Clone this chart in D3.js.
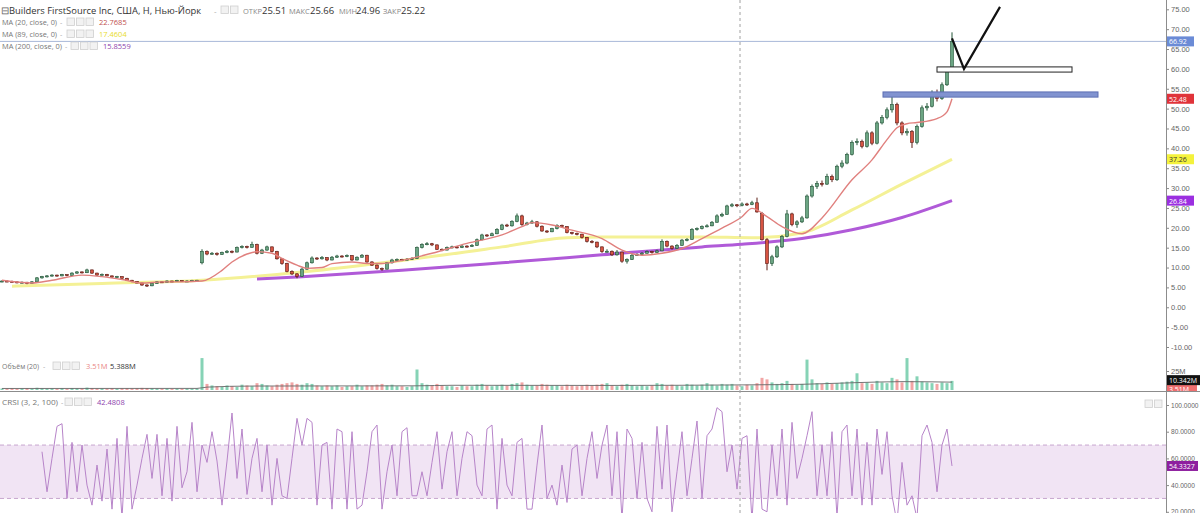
<!DOCTYPE html>
<html><head><meta charset="utf-8">
<script src="https://cdn.jsdelivr.net/npm/d3@7"></script>
<style>
html,body{margin:0;padding:0;background:#fff;overflow:hidden}
svg{display:block;font-family:"Open Sans",Roboto,sans-serif}
</style></head><body>
<svg id="c" width="1200" height="513"></svg>
<script>
// ---------- DATA (weekly bars) ----------
const opens=[6.5,6.6,6.5,6.4,6.2,6.3,6.0,6.4,7.4,7.7,
7.9,8.1,7.9,8.2,8.0,8.6,8.9,8.7,9.4,8.6,
8.1,8.3,7.9,7.6,7.7,7.3,6.8,6.5,6.1,5.6,
5.4,6.0,6.4,6.3,6.6,6.5,6.7,6.5,6.6,6.7,
11.2,14.0,13.4,13.6,13.3,13.8,14.1,13.9,15.0,15.3,
15.1,15.8,13.6,14.4,15.2,14.0,12.2,11.0,9.0,8.4,
7.8,9.6,11.2,12.4,12.2,12.5,11.9,12.6,12.9,12.8,
13.0,11.9,12.6,13.1,11.4,10.6,9.8,9.6,11.2,11.9,
12.0,11.9,12.1,12.3,15.0,15.8,16.0,15.7,14.6,14.4,
15.0,15.2,15.0,15.4,15.3,15.6,17.0,18.2,18.0,18.5,
19.6,20.7,20.5,21.6,23.0,20.8,21.2,21.5,20.4,19.2,
19.0,19.8,20.6,20.3,18.8,18.6,18.4,17.6,16.6,16.4,
15.2,14.0,14.1,13.2,13.9,11.6,12.0,13.1,13.3,13.6,
14.0,13.8,14.2,16.6,15.4,14.8,15.6,16.9,17.1,19.6,
19.8,20.3,20.5,21.4,23.0,23.4,25.5,25.8,25.6,26.0,
25.9,26.3,23.6,17.0,11.0,12.7,15.2,17.8,23.5,20.8,
21.5,22.5,28.0,30.4,31.2,31.0,32.9,32.1,35.5,36.3,
38.5,41.5,41.7,40.5,43.9,41.3,46.4,47.8,49.7,51.0,
46.4,43.9,44.2,41.5,45.5,50.2,50.6,54.0,52.5,56.0,
59.8];
const highs=[6.8,6.8,6.7,6.5,6.5,6.4,6.6,7.6,7.9,8.1,
8.3,8.2,8.4,8.3,8.8,9.1,9.0,9.7,9.5,8.7,
8.5,8.4,8.0,7.9,7.8,7.4,6.9,6.6,6.2,5.8,
6.1,6.6,6.5,6.8,6.7,6.9,6.8,6.8,6.9,6.9,
14.6,14.3,13.9,13.8,14.0,14.4,14.3,15.3,15.6,15.5,
16.5,16.0,14.7,15.5,15.3,14.2,12.4,11.2,9.3,8.6,
9.9,11.5,12.8,12.6,12.9,12.6,12.9,13.2,13.1,13.3,
13.1,12.8,13.4,13.2,11.6,10.8,10.0,11.4,12.2,12.3,
12.2,12.4,12.6,15.3,16.1,16.4,16.2,15.8,14.8,15.3,
15.5,15.4,15.7,15.6,15.9,17.3,18.5,18.4,18.8,19.9,
21.0,21.0,21.9,23.6,23.3,21.5,22.0,21.7,20.6,19.4,
20.0,20.9,20.8,20.4,19.0,18.8,18.5,17.7,16.9,16.5,
15.3,14.6,14.3,14.4,14.0,12.3,13.4,13.6,13.9,14.3,
14.2,14.5,17.1,16.8,15.6,15.9,17.2,17.4,19.9,20.1,
20.6,20.9,21.7,23.4,23.8,25.8,26.2,26.0,26.4,26.3,
26.8,27.6,24.0,17.4,13.2,15.6,18.2,24.5,23.8,21.9,
23.0,28.4,30.9,31.8,31.9,33.6,33.4,35.9,37.0,38.9,
42.0,42.5,42.2,44.5,44.3,46.9,48.4,50.3,53.9,51.5,
46.8,45.0,44.6,46.0,50.8,51.4,54.6,54.8,56.6,60.2,
69.2];
const lows=[6.3,6.3,6.2,6.0,6.0,5.8,5.9,6.3,7.2,7.5,
7.7,7.7,7.8,7.8,7.9,8.4,8.5,8.6,8.4,7.9,
8.0,7.8,7.4,7.5,7.1,6.7,6.3,6.0,5.4,5.1,
5.3,5.9,6.1,6.2,6.3,6.4,6.4,6.4,6.5,6.5,
10.8,13.1,13.2,13.0,13.2,13.6,13.6,13.8,14.8,14.8,
15.0,13.3,13.4,14.2,13.8,12.0,10.7,8.8,8.1,7.3,
7.6,9.4,11.0,11.9,12.0,11.6,11.8,12.4,12.5,12.6,
11.7,11.8,12.5,11.2,10.4,9.5,9.2,9.5,11.0,11.7,
11.6,11.8,11.9,12.2,14.8,15.6,15.4,14.4,14.1,14.3,
14.8,14.8,14.9,15.0,15.2,15.5,16.8,17.7,17.9,18.4,
19.4,20.2,20.3,21.4,20.5,20.6,21.0,20.1,19.0,18.7,
18.9,19.6,20.0,18.6,18.3,18.1,17.3,16.3,16.1,14.9,
13.7,13.8,12.9,13.0,11.2,11.0,11.9,12.9,13.1,13.5,
13.5,13.7,14.1,15.1,14.5,14.7,15.5,16.6,17.0,19.3,
19.6,20.1,20.4,21.3,22.7,23.3,25.2,25.2,25.4,25.5,
25.7,23.8,16.8,9.3,10.4,12.4,14.9,17.6,20.4,20.0,
21.2,22.3,27.6,29.8,30.4,30.8,31.5,31.8,35.0,36.0,
38.2,40.8,40.0,40.2,40.8,41.0,46.0,47.3,49.0,45.8,
43.3,43.2,40.1,41.0,45.2,49.5,50.3,51.8,52.2,55.7,
59.2];
const closes=[6.6,6.5,6.4,6.2,6.3,6.0,6.4,7.4,7.7,7.9,
8.1,7.9,8.2,8.0,8.6,8.9,8.7,9.4,8.6,8.1,
8.3,7.9,7.6,7.7,7.3,6.8,6.5,6.1,5.6,5.4,
6.0,6.4,6.3,6.6,6.5,6.7,6.5,6.6,6.7,6.8,
14.0,13.4,13.6,13.3,13.8,14.1,13.9,15.0,15.3,15.1,
15.8,13.6,14.4,15.2,14.0,12.2,11.0,9.0,8.4,7.8,
9.6,11.2,12.4,12.2,12.5,11.9,12.6,12.9,12.8,13.0,
11.9,12.6,13.1,11.4,10.6,9.8,9.6,11.2,11.9,12.0,
11.9,12.1,12.3,15.0,15.8,16.0,15.7,14.6,14.4,15.0,
15.2,15.0,15.4,15.3,15.6,17.0,18.2,18.0,18.5,19.6,
20.7,20.5,21.6,23.0,20.8,21.2,21.5,20.4,19.2,19.0,
19.8,20.6,20.3,18.8,18.6,18.4,17.6,16.6,16.4,15.2,
14.0,14.1,13.2,13.9,11.6,12.0,13.1,13.3,13.6,14.0,
13.8,14.2,16.6,15.4,14.8,15.6,16.9,17.1,19.6,19.8,
20.3,20.5,21.4,23.0,23.4,25.5,25.8,25.6,26.0,25.9,
26.3,24.0,17.0,11.0,12.7,15.2,17.8,23.5,20.8,21.5,
22.5,28.0,30.4,31.2,31.0,32.9,32.1,35.5,36.3,38.5,
41.5,41.7,40.5,43.9,41.3,46.4,47.8,49.7,51.0,46.4,
43.9,44.2,41.5,45.5,50.2,50.6,54.0,52.5,56.0,59.6,
66.9];
// volume, millions
const volumes=[2.0,1.8,2.2,1.5,2.0,2.4,1.6,3.0,2.2,1.8,
2.0,1.6,2.4,1.5,2.6,2.1,1.7,3.2,2.5,1.9,
2.0,1.8,2.3,1.6,2.2,2.5,2.0,2.4,2.8,2.6,
2.2,1.9,1.7,2.0,1.6,1.8,1.5,1.9,1.7,2.0,
42,
8,6,5,4,6,5,4,7,6,5,9,8,6,5,7,8,9,10,8,7,9,8,6,5,6,5,6,4,5,5,7,5,6,6,7,8,6,7,5,5,4,5,
27,
9,7,6,8,6,5,5,4,6,5,5,7,8,6,5,6,7,6,8,9,10,7,6,6,8,7,6,6,5,7,6,5,6,7,6,7,8,9,6,5,7,8,6,5,6,5,6,9,8,6,7,6,5,8,7,6,7,9,7,6,8,7,8,6,5,7,6,
9,16,14,10,8,9,12,8,7,8,40,14,9,8,10,8,9,10,11,12,22,9,10,8,12,10,9,16,14,10,42,12,18,11,10,9,8,10,9,12];
const volMaBars=[0,39,41,50,83,90,120,150,160,170,180,190];
const volMaVals=[2.0,2.1,3.8,5.2,5.5,6.2,6.0,6.8,7.5,9.5,11.0,10.342];
// moving averages (bar index -> value)
const ma20Bars=[0,6,10,16,20,24,28,32,36,40,44,46,49,51,54,56,59,61,64,66,70,73,76,80,86,93,100,104,106,110,114,120,124,128,132,136,140,144,148,150,153,156,160,164,170,174,177,179,181,183,187,189,190];
const ma20Vals=[6.8,6.1,6.8,8.1,7.7,7.0,6.1,6.4,6.4,6.6,9.3,11.4,13.4,14.0,13.6,12.3,10.6,9.8,10.0,11.0,11.4,11.0,11.0,11.8,13.6,16.1,18.2,20.3,21.3,20.7,19.4,17.3,14.4,13.1,13.6,14.8,17.3,19.9,22.8,24.9,22.8,20.3,18.5,22.5,32.1,37.1,42.2,45.2,46.2,46.5,47.5,49.2,52.48];
const ma89Bars=[2,20,40,60,80,100,113,120,140,150,160,170,180,190];
const ma89Vals=[5.3,6.0,6.8,8.9,11.8,15.2,17.5,17.7,17.7,17.5,18.7,24.5,31.0,37.26];
const ma200Bars=[51,60,80,100,120,140,148,160,170,180,190];
const ma200Vals=[7.1,7.7,9.3,11.2,13.2,15.2,15.86,17.3,19.5,22.6,26.84];
// CRSI (3,2,100), last 183 bars
const crsi=[65,35,60,84,86,30,72,35,70,40,
25,55,28,67,22,75,15,84,22,40,
60,78,45,78,32,75,28,84,38,50,
87,35,70,57,80,58,25,58,94,45,
82,33,60,75,35,70,25,60,32,30,
60,90,70,90,87,25,70,72,22,82,
80,22,80,22,25,50,80,85,22,50,
70,32,80,83,32,32,50,32,57,80,
37,65,80,32,60,80,77,40,32,82,
85,22,75,40,32,72,75,22,22,55,
85,30,40,25,55,27,67,70,32,60,
80,45,70,85,32,80,14,82,75,30,
72,30,20,84,37,85,20,50,80,32,
60,88,30,77,82,98,95,50,70,37,
75,77,13,82,22,20,70,32,82,25,
87,45,60,77,95,32,70,32,80,16,
80,85,32,82,25,72,25,82,48,80,
32,12,57,25,32,15,77,85,72,35,
70,82,54.33];
const priceTicks=[-10,-5,0,5,10,15,20,25,30,35,40,45,50,55,60,65,70,75];
const crsiTicks=[20,40,60,80,100];
const crsiBand=[30,70];
// drawings (bar index, price)
const blueZone={bars:[176.2,219.2],prices:[52.9,54.2]};
const whiteZone={bars:[187,214],prices:[59.2,60.5]};
const arrowPath=[[190,67.7],[192.4,60.0],[199.6,75.6]];
const cursorBar=147.6, cursorPrice=66.92;

// ---------- CHART ----------
const svg=d3.select('#c');
const AX=1166;
const x=d3.scaleLinear().domain([0,190]).range([2,952]);
const y=d3.scaleLinear().domain([-10,75]).range([347,9.3]);
const yv=d3.scaleLinear().domain([0,25]).range([390,371]);
const yc=d3.scaleLinear().domain([20,100]).range([511.8,405]);
const N=closes.length;
const bars=d3.range(N).map(i=>({i,o:opens[i],h:highs[i],l:lows[i],c:closes[i],v:volumes[i]}));

const defs=svg.append('defs');
defs.append('clipPath').attr('id','cm').append('rect').attr('x',0).attr('y',0).attr('width',AX).attr('height',391);
defs.append('clipPath').attr('id','cc').append('rect').attr('x',0).attr('y',392).attr('width',AX).attr('height',121);
defs.append('clipPath').attr('id','ct').append('rect').attr('x',AX).attr('y',0).attr('width',40).attr('height',391);

// CRSI panel
const gc=svg.append('g').attr('clip-path','url(#cc)');
gc.append('rect').attr('x',0).attr('width',AX).attr('y',yc(crsiBand[1])).attr('height',yc(crsiBand[0])-yc(crsiBand[1])).attr('fill','#f1e4f4');
crsiBand.forEach(v=>gc.append('line').attr('x1',0).attr('x2',AX).attr('y1',yc(v)).attr('y2',yc(v)).attr('stroke','#c7a6cf').attr('stroke-dasharray','4,3'));
const off=N-crsi.length;
gc.append('path').datum(crsi.map((v,k)=>[k+off,v])).attr('fill','none').attr('stroke','#b784c9').attr('stroke-width',1)
 .attr('d',d3.line().x(d=>x(d[0])).y(d=>yc(d[1])));

// main panel
const gm=svg.append('g').attr('clip-path','url(#cm)');
// volume
gm.append('g').selectAll('rect').data(bars).join('rect')
 .attr('x',d=>x(d.i)-1.5).attr('width',3).attr('y',d=>yv(d.v)).attr('height',d=>yv(0)-yv(d.v))
 .attr('fill',d=>d.c>=d.o?'#86d3b6':'#f2a5a5');
gm.append('path').datum(volMaBars.map((b,k)=>[b,volMaVals[k]])).attr('fill','none').attr('stroke','#666').attr('stroke-width',0.9)
 .attr('d',d3.line().x(d=>x(d[0])).y(d=>yv(d[1])).curve(d3.curveMonotoneX));

// cursor horizontal line
gm.append('line').attr('x1',0).attr('x2',AX).attr('y1',y(cursorPrice)).attr('y2',y(cursorPrice)).attr('stroke','#a8b8d8').attr('stroke-width',1);

// MAs (long ones below candles)
const maLine=(b,v)=>d3.line().x((d,k)=>x(b[k])).y((d,k)=>y(v[k])).curve(d3.curveMonotoneX)(v);
gm.append('path').attr('d',maLine(ma89Bars,ma89Vals)).attr('fill','none').attr('stroke','#f4f196').attr('stroke-width',3);
gm.append('path').attr('d',maLine(ma200Bars,ma200Vals)).attr('fill','none').attr('stroke','#b05ad8').attr('stroke-width',3);

// candles
const cg=gm.append('g');
cg.selectAll('line').data(bars).join('line')
 .attr('x1',d=>x(d.i)).attr('x2',d=>x(d.i)).attr('y1',d=>y(d.h)).attr('y2',d=>y(d.l))
 .attr('stroke',d=>d.c>=d.o?'#225437':'#5b1a13').attr('stroke-width',1);
cg.selectAll('rect').data(bars).join('rect')
 .attr('x',d=>x(d.i)-1.5).attr('width',3)
 .attr('y',d=>y(Math.max(d.o,d.c))).attr('height',d=>Math.max(1,Math.abs(y(d.o)-y(d.c))))
 .attr('fill',d=>d.c>=d.o?'#6ba583':'#d75442').attr('stroke',d=>d.c>=d.o?'#225437':'#5b1a13').attr('stroke-width',0.6);

gm.append('path').attr('d',maLine(ma20Bars,ma20Vals)).attr('fill','none').attr('stroke','#e0807e').attr('stroke-width',1.4);

// drawings
gm.append('rect').attr('x',x(blueZone.bars[0])).attr('width',x(blueZone.bars[1])-x(blueZone.bars[0]))
 .attr('y',y(blueZone.prices[1])).attr('height',y(blueZone.prices[0])-y(blueZone.prices[1]))
 .attr('fill','#8193d0').attr('stroke','#5d6fb3').attr('stroke-width',1);
gm.append('rect').attr('x',x(whiteZone.bars[0])).attr('width',x(whiteZone.bars[1])-x(whiteZone.bars[0]))
 .attr('y',y(whiteZone.prices[1])).attr('height',y(whiteZone.prices[0])-y(whiteZone.prices[1]))
 .attr('fill','#fff').attr('stroke','#222').attr('stroke-width',1);
gm.append('path').attr('d',d3.line().x(d=>x(d[0])).y(d=>y(d[1]))(arrowPath)).attr('fill','none').attr('stroke','#111').attr('stroke-width',2.2);

// separators
svg.append('line').attr('x1',0).attr('x2',1200).attr('y1',391.5).attr('y2',391.5).attr('stroke','#8c8c8c');
// cursor vertical
svg.append('line').attr('x1',x(cursorBar)).attr('x2',x(cursorBar)).attr('y1',0).attr('y2',513).attr('stroke','#a0a0a0').attr('stroke-dasharray','3,3');

// axes
function styleAxis(size){return g=>{g.selectAll('.domain').remove();g.selectAll('line').attr('stroke','#888');g.selectAll('text').attr('fill','#666').style('font-size',size+'px');};}
svg.append('g').attr('transform',`translate(${AX},0)`).call(d3.axisRight(y).tickValues(priceTicks).tickFormat(d=>d.toFixed(2)).tickSize(3).tickPadding(2)).call(styleAxis(7.5));
svg.append('g').attr('transform',`translate(${AX},0)`).call(d3.axisRight(yv).tickValues([25]).tickFormat(d=>d+'M').tickSize(3).tickPadding(2)).call(styleAxis(7.5));
svg.append('g').attr('transform',`translate(${AX},0)`).call(d3.axisRight(yc).tickValues(crsiTicks).tickFormat(d=>d.toFixed(4)).tickSize(3).tickPadding(2)).call(styleAxis(6.6));
svg.append('line').attr('x1',AX+0.5).attr('x2',AX+0.5).attr('y1',0).attr('y2',513).attr('stroke','#8c8c8c');

// value tags
function tag(yy,txt,bg,fg,w,clip){
  const g=svg.append('g');
  if(clip)g.attr('clip-path','url(#ct)');
  g.append('rect').attr('x',AX+1).attr('y',yy-5).attr('width',w||27).attr('height',10).attr('fill',bg);
  g.append('text').attr('x',AX+3).attr('y',yy+3).text(txt).attr('fill',fg).style('font-size','7px');
}
tag(y(cursorPrice),cursorPrice.toFixed(2),'#6b8bd6','#fff');
tag(y(ma20Vals[ma20Vals.length-1]),'52.48','#e0333a','#fff');
tag(y(ma89Vals[ma89Vals.length-1]),'37.26','#f4f23c','#333');
tag(y(ma200Vals[ma200Vals.length-1]),'26.84','#9b2fe0','#fff');
tag(yv(3.51)+2,'3.51M','#ef6f6f','#fff',30,true);
tag(yv(10.342)-2,'10.342M','#111','#fff',33,true);
tag(yc(54.33),'54.3327','#8e1f9f','#fff',31);

// legends
function icons(x0,y0,n){for(let k=0;k<n;k++)svg.append('rect').attr('x',x0+k*9.5).attr('y',y0).attr('width',7.5).attr('height',7.5).attr('fill','#f2f2f2').attr('stroke','#cfcfcf').attr('stroke-width',0.8);}
function txt(xx,yy,s,size,col,len){const t=svg.append('text').attr('x',xx).attr('y',yy).text(s).attr('fill',col).style('font-size',size+'px');if(len)t.attr('textLength',len).attr('lengthAdjust','spacingAndGlyphs');return t;}
txt(1,14,'⊟',10,'#666');
txt(9,14,'Builders FirstSource Inc, США, Н, Нью-Йорк',9.4,'#333');
txt(214,14,'-',8,'#aaa');
icons(221,6,2);
txt(243,14,'ОТКР',7.5,'#888');txt(262,14,'25.51',9.5,'#333');
txt(289,14,'МАКС',7.5,'#888');txt(310,14,'25.66',9.5,'#333');
txt(339,14,'МИН',7.5,'#888');txt(356,14,'24.96',9.5,'#333');
txt(383,14,'ЗАКР',7.5,'#888');txt(401,14,'25.22',9.5,'#333');
txt(2,25,'MA (20, close, 0)',7.5,'#777',55);txt(60,25,'-',7,'#aaa');icons(67,18,3);txt(99,25,'22.7685',7.5,'#c0504d');
txt(2,37,'MA (89, close, 0)',7.5,'#777',55);txt(60,37,'-',7,'#aaa');icons(67,30,3);txt(99,37,'17.4604',7.5,'#e8dc2a');
txt(2,49,'MA (200, close, 0)',7.5,'#777',60);txt(65,49,'-',7,'#aaa');icons(71,42,3);txt(103,49,'15.8559',7.5,'#8e44ad');
txt(2,369,'Объём (20)',7.5,'#777',37);txt(43,369,'-',7,'#aaa');icons(53,362,3);txt(86,369,'3.51M',7.5,'#e98585');txt(110,369,'5.388M',7.5,'#333');
txt(2,405,'CRSI (3, 2, 100)',7.5,'#777',56);txt(61,405,'-',7,'#aaa');icons(65,398,3);txt(97,405,'42.4808',7.5,'#8e44ad');
icons(1145,400,2);
</script>
</body></html>
